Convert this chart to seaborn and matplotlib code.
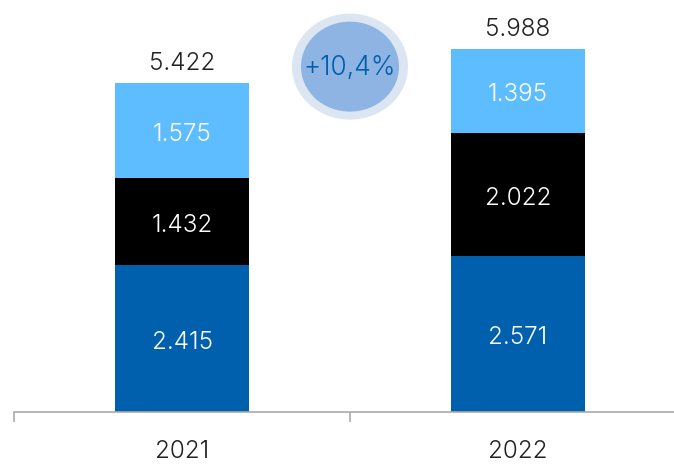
import matplotlib
matplotlib.use("Agg")
import matplotlib.pyplot as plt
from matplotlib.patches import Ellipse
import seaborn as sns
import pandas as pd

years = ["2021", "2022"]
segment_names = ["base", "middle", "top"]
base_values = [2.415, 2.571]
middle_values = [1.432, 2.022]
top_values = [1.575, 1.395]
totals = [5.422, 5.988]
growth_label = "+10,4%"

colors = {"base": "#0060AE", "middle": "#000000", "top": "#5EBDFF"}

sns.set_theme(style="white")
plt.rcParams["font.family"] = ["Inter", "DejaVu Sans"]
WEIGHT = 300
SIZE = 17.5

df = pd.DataFrame({
    "year": years * 3,
    "segment": [s for s in segment_names for _ in years],
    "value": base_values + middle_values + top_values,
})

fig = plt.figure(figsize=(6.74, 4.65), dpi=100)
ax = fig.add_axes([14 / 674, 53 / 465, 672 / 674, 6.5 * 60.7 / 465])

bottoms = [0.0] * len(years)
for seg in segment_names:
    sub = df[df["segment"] == seg]
    vals = list(sub["value"])
    sns.barplot(x=years, y=vals, bottom=bottoms, color=colors[seg],
                width=0.4, ax=ax, saturation=1, linewidth=0)
    for i, (v, b) in enumerate(zip(vals, bottoms)):
        ax.text(i, b + v / 2 - 0.06, f"{v:.3f}", ha="center", va="center",
                color="white", fontsize=SIZE, fontweight=WEIGHT, zorder=10)
    bottoms = [b + v for b, v in zip(bottoms, vals)]

for i, t in enumerate(totals):
    ax.text(i, t + 0.13, f"{t:.3f}", ha="center", va="bottom",
            color="#222222", fontsize=SIZE, fontweight=WEIGHT)

ax.set_xlim(-0.5, 1.5)
ax.set_ylim(0, 6.5)
ax.set_yticks([])
ax.set_xticks([0, 1])
ax.set_xticklabels(years)
ax.set_xticks([-0.5, 0.5, 1.5], minor=True)
ax.tick_params(axis="x", which="major", length=0, pad=20, labelsize=SIZE,
               labelcolor="#222222")
ax.tick_params(axis="x", which="minor", length=7.5, width=1.2,
               color="#AAAAAA", direction="out", bottom=True)
for lbl in ax.get_xticklabels():
    lbl.set_fontweight(WEIGHT)
for side in ["top", "right", "left"]:
    ax.spines[side].set_visible(False)
ax.spines["bottom"].set_color("#AAAAAA")
ax.spines["bottom"].set_linewidth(1.2)
ax.set_xlabel("")
ax.set_ylabel("")

# growth badge between the bars
px_x = 2.0 / 672
px_y = 1 / 60.7
cy = 5.69
ax.add_patch(Ellipse((0.5, cy), 116 * px_x, 106 * px_y,
                     facecolor="#DCE6F2", edgecolor="none", clip_on=False, zorder=3))
ax.add_patch(Ellipse((0.5, cy), 98 * px_x, 90 * px_y,
                     facecolor="#8DB4E2", edgecolor="none", clip_on=False, zorder=4))
ax.text(0.5, cy - 0.03, growth_label, ha="center", va="center", color="#0060AE",
        fontsize=19, fontweight=WEIGHT, zorder=5)

fig.savefig("out.png", dpi=100)
